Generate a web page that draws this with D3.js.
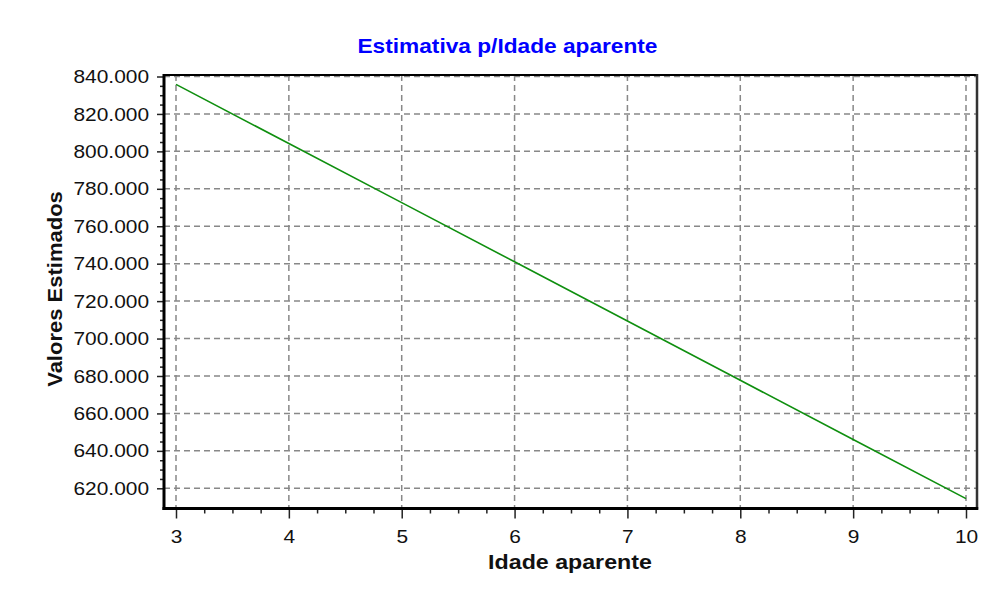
<!DOCTYPE html>
<html>
<head>
<meta charset="utf-8">
<script src="https://cdn.jsdelivr.net/npm/d3@7"></script>
<style>
  html, body { margin: 0; padding: 0; background: #fff; }
  svg { display: block; font-family: "Liberation Sans", Arial, sans-serif; }
</style>
</head>
<body>
<svg id="chart" width="993" height="600"></svg>
<script>
// ---- data ----
const chartTitle = "Estimativa p/Idade aparente";
const xAxisTitle = "Idade aparente";
const yAxisTitle = "Valores Estimados";
const idade = [3, 4, 5, 6, 7, 8, 9, 10];
const valores = [835800, 804200, 772600, 741000, 709400, 677700, 646100, 614500];
const xTickValues = [3, 4, 5, 6, 7, 8, 9, 10];
const yTickValues = [620000, 640000, 660000, 680000, 700000, 720000, 740000, 760000, 780000, 800000, 820000, 840000];

// ---- drawing ----
const svg = d3.select("#chart");
const frame = { left: 164, top: 75, right: 977, bottom: 508.5 };

const x = d3.scaleLinear().domain([3, 10]).range([176, 966]);
const y = d3.scaleLinear().domain([620000, 840000]).range([488.3, 76.5]);

const br = d3.formatLocale({ decimal: ",", thousands: ".", grouping: [3], currency: ["R$", ""] });
const fmtY = br.format(",d");

function stretch(sel, k) {
  sel.each(function () {
    const w = this.getComputedTextLength();
    d3.select(this).attr("textLength", w * k).attr("lengthAdjust", "spacingAndGlyphs");
  });
}

// grid
const grid = svg.append("g").attr("stroke", "#888").attr("stroke-width", 1.5).attr("stroke-dasharray", "6,4");
grid.selectAll("line.v").data(xTickValues).join("line")
  .attr("x1", d => x(d)).attr("x2", d => x(d))
  .attr("y1", frame.top).attr("y2", frame.bottom);
grid.selectAll("line.h").data(yTickValues).join("line")
  .attr("x1", frame.left).attr("x2", frame.right)
  .attr("y1", d => y(d)).attr("y2", d => y(d));

// axes (ticks via d3 axes)
const xMinor = d3.range(3, 10.001, 0.25).filter(v => Math.abs(v - Math.round(v)) > 1e-6);
const yMinor = d3.range(620000, 840001, 5000).filter(v => v % 20000 !== 0);

const xAxisG = svg.append("g").attr("transform", `translate(0,${frame.bottom})`)
  .call(d3.axisBottom(x).tickValues(xTickValues).tickSize(10).tickPadding(11).tickFormat(d3.format("d")));
const xMinorG = svg.append("g").attr("transform", `translate(0,${frame.bottom})`)
  .call(d3.axisBottom(x).tickValues(xMinor).tickSize(5).tickFormat(""));
const yAxisG = svg.append("g").attr("transform", `translate(${frame.left},0)`)
  .call(d3.axisLeft(y).tickValues(yTickValues).tickSize(7).tickPadding(8).tickFormat(fmtY));
const yMinorG = svg.append("g").attr("transform", `translate(${frame.left},0)`)
  .call(d3.axisLeft(y).tickValues(yMinor).tickSize(4).tickFormat(""));

[xAxisG, xMinorG, yAxisG, yMinorG].forEach(g => {
  g.select(".domain").remove();
  g.selectAll(".tick line").attr("stroke", "#222").attr("stroke-width", 1.5);
});
xAxisG.selectAll(".tick text").attr("font-size", 19).attr("fill", "#111")
  .attr("font-family", "Liberation Sans, Arial, sans-serif").attr("dy", "0.71em").call(stretch, 1.1);
yAxisG.selectAll(".tick text").attr("font-size", 19).attr("fill", "#111")
  .attr("font-family", "Liberation Sans, Arial, sans-serif").call(stretch, 1.1);

// line
const line = d3.line().x((d, i) => x(idade[i])).y(d => y(d));
svg.append("path").datum(valores)
  .attr("fill", "none").attr("stroke", "#0f8f0f").attr("stroke-width", 1.6)
  .attr("d", line);

// frame
svg.append("line").attr("x1", frame.left - 1).attr("x2", frame.right).attr("y1", frame.top).attr("y2", frame.top)
  .attr("stroke", "#000").attr("stroke-width", 2);
svg.append("line").attr("x1", frame.right).attr("x2", frame.right).attr("y1", frame.top - 1).attr("y2", frame.bottom + 1)
  .attr("stroke", "#333").attr("stroke-width", 2.5);
svg.append("line").attr("x1", frame.left).attr("x2", frame.left).attr("y1", frame.top - 1).attr("y2", frame.bottom + 1.5)
  .attr("stroke", "#000").attr("stroke-width", 3);
svg.append("line").attr("x1", frame.left - 1.5).attr("x2", frame.right + 1.25).attr("y1", frame.bottom).attr("y2", frame.bottom)
  .attr("stroke", "#000").attr("stroke-width", 3);

// titles
svg.append("text").attr("x", 507.5).attr("y", 53).attr("text-anchor", "middle")
  .attr("font-size", 21).attr("font-weight", "bold").attr("fill", "#0000ff")
  .text(chartTitle).call(stretch, 1.08);
svg.append("text").attr("x", 570).attr("y", 569).attr("text-anchor", "middle")
  .attr("font-size", 20).attr("font-weight", "bold").attr("fill", "#111")
  .text(xAxisTitle).call(stretch, 1.16);
svg.append("text").attr("transform", "translate(62,289) rotate(-90)").attr("text-anchor", "middle")
  .attr("font-size", 20).attr("font-weight", "bold").attr("fill", "#111")
  .text(yAxisTitle).call(stretch, 1.1);
</script>
</body>
</html>
